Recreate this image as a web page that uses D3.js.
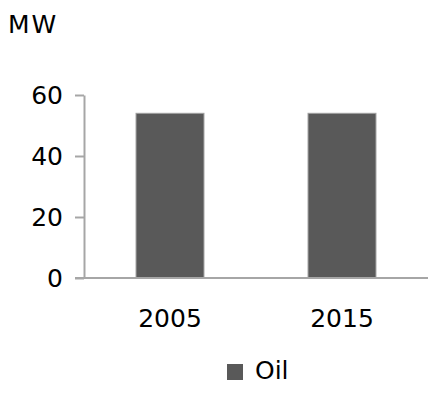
<!DOCTYPE html>
<html><head><meta charset="utf-8">
<script src="https://cdn.jsdelivr.net/npm/d3@7"></script>
<style>body{margin:0;background:#fff}svg{display:block}text{font-family:"DejaVu Sans",sans-serif;fill:#000}</style>
</head><body><svg id="c" width="430" height="393"></svg>
<script>
const categories = ["2005", "2015"];
const oilValues = [54, 54];
const yTicks = [0, 20, 40, 60];
const seriesName = "Oil";
const unitLabel = "MW";

const svg = d3.select("#c");
const x = d3.scaleBand().domain(categories).range([84, 428]).paddingInner(0.605).paddingOuter(0.3025);
const y = d3.scaleLinear().domain([0, 60]).range([278, 95]);

// y axis
const yAxis = svg.append("g").attr("transform", "translate(84,0)")
  .call(d3.axisLeft(y).tickValues(yTicks).tickSize(9).tickPadding(12).tickSizeOuter(0));
yAxis.select(".domain").attr("stroke", "#a6a6a6").attr("stroke-width", 2);
yAxis.selectAll(".tick line").attr("stroke", "#a6a6a6").attr("stroke-width", 2);
yAxis.selectAll(".tick text").style("font-size", "25px").attr("fill", "#000");

// bars
svg.append("g").selectAll("rect").data(categories).join("rect")
  .attr("x", d => x(d)).attr("width", x.bandwidth())
  .attr("y", (d, i) => y(oilValues[i])).attr("height", (d, i) => y(0) - y(oilValues[i]))
  .attr("fill", "#595959").attr("stroke", "#a0a0a0").attr("stroke-width", 1);

// x axis
const xAxis = svg.append("g").attr("transform", "translate(0,278)")
  .call(d3.axisBottom(x).tickSize(0).tickPadding(31).tickSizeOuter(0));
xAxis.select(".domain").attr("stroke", "#a6a6a6").attr("stroke-width", 2).attr("d", "M75,0H428");
xAxis.selectAll(".tick text").style("font-size", "25px").attr("fill", "#000");

// unit label
svg.append("text").attr("x", 8).attr("y", 33).style("font-size", "25px").style("letter-spacing", "2px").text(unitLabel);

// legend
const lg = svg.append("g");
lg.append("rect").attr("x", 227).attr("y", 364).attr("width", 16).attr("height", 16).attr("fill", "#595959");
lg.append("text").attr("x", 255).attr("y", 379).style("font-size", "25px").text(seriesName);
</script></body></html>
